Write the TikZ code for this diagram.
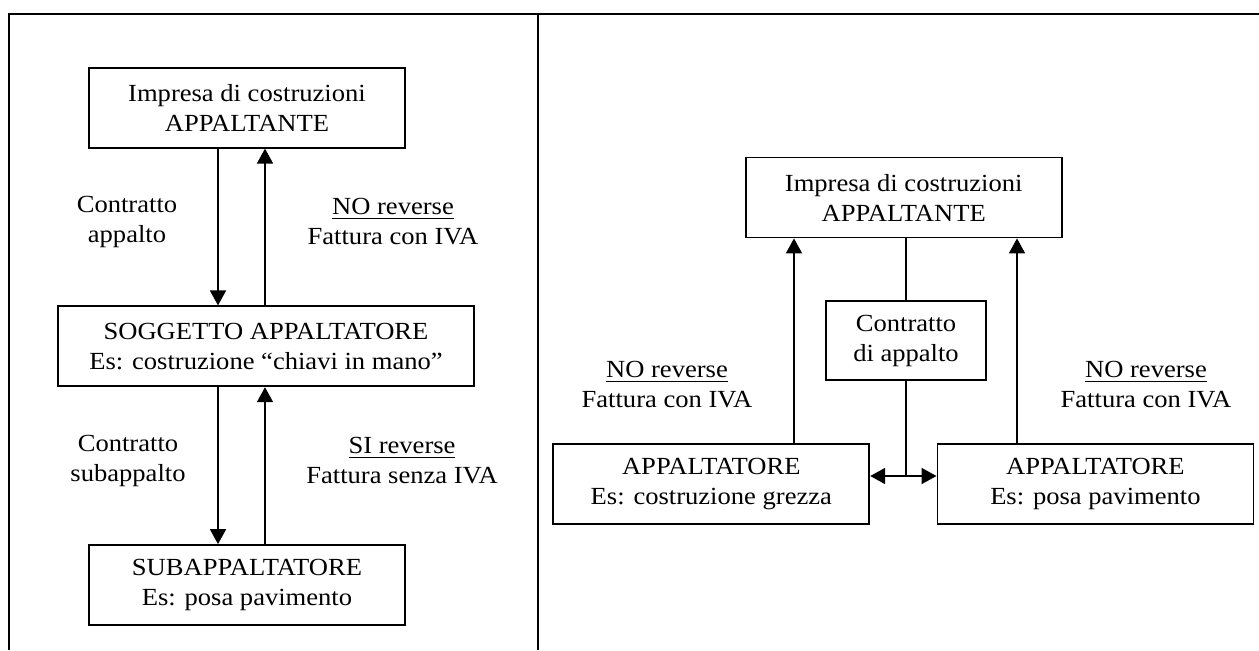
\documentclass[tikz,border=0pt]{standalone}
\usepackage{fontspec}
\setmainfont{Liberation Serif}[FakeStretch=1.08]
\usetikzlibrary{arrows.meta,calc}
\begin{document}
\begin{tikzpicture}[x=0.5pt,y=-0.5pt,
  every node/.style={font=\fontsize{12.3pt}{15pt}\selectfont, align=center, inner sep=0pt},
  box/.style={draw, line width=0.9pt, minimum width=158pt, minimum height=40pt},
  lab/.style={},
  conn/.style={line width=0.9pt},
  arr/.style={conn, -{Triangle[length=7.5pt,width=8pt]}},
  darr/.style={conn, {Triangle[length=7.5pt,width=8pt]}-{Triangle[length=7.5pt,width=8pt]}}]
\useasboundingbox (0,0) rectangle (1259,650);
% frame
\draw[line width=1pt] (9,650) -- (9,14.3) -- (1259,14.3);
\draw[line width=1pt] (538,14.3) -- (538,650);
% left side
\node[box] (LA) at (247,107.7) {Impresa di costruzioni\\APPALTANTE};
\node[box, minimum width=208pt] (LS) at (266,346.3) {SOGGETTO APPALTATORE\\Es: costruzione “chiavi in mano”};
\node[box] (LB) at (247,585) {SUBAPPALTATORE\\Es: posa pavimento};
\coordinate (xl) at (218,0);
\coordinate (xr) at (265,0);
\draw[arr] (LA.south -| xl) -- (LS.north -| xl);
\draw[arr] (LS.north -| xr) -- (LA.south -| xr);
\draw[arr] (LS.south -| xl) -- (LB.north -| xl);
\draw[arr] (LB.north -| xr) -- (LS.south -| xr);
\node[lab] (l1) at (127,222) {Contratto\\appalto};
\node[lab] (l2) at (393,222) {\underline{NO reverse}\\Fattura con IVA};
\node[lab] (l3) at (128,461) {Contratto\\subappalto};
\node[lab] (l4) at (402,461) {\underline{SI reverse}\\Fattura senza IVA};
% right side
\node[box] (RA) at (903.7,197.5) {Impresa di costruzioni\\APPALTANTE};
\node[box, minimum width=80pt, minimum height=39.5pt] (RC) at (906,340.5) {Contratto\\di appalto};
\node[box] (RL) at (711.3,483.7) {APPALTATORE\\Es: costruzione grezza};
\node[box] (RR) at (1095.4,483.7) {APPALTATORE\\Es: posa pavimento};
\coordinate (j) at (906,476);
\draw[conn] (RA.south -| j) -- (RC.north -| j);
\draw[conn] (RC.south -| j) -- (j);
\draw[arr] (j) -- (RL.east |- j);
\draw[arr] (j) -- (RR.west |- j);
\coordinate (xa) at (794,0);
\coordinate (xb) at (1017,0);
\draw[arr] (RL.north -| xa) -- (RA.south -| xa);
\draw[arr] (RR.north -| xb) -- (RA.south -| xb);
\node[lab] (l5) at (667,385) {\underline{NO reverse}\\Fattura con IVA};
\node[lab] (l6) at (1146,385) {\underline{NO reverse}\\Fattura con IVA};
\end{tikzpicture}
\end{document}
